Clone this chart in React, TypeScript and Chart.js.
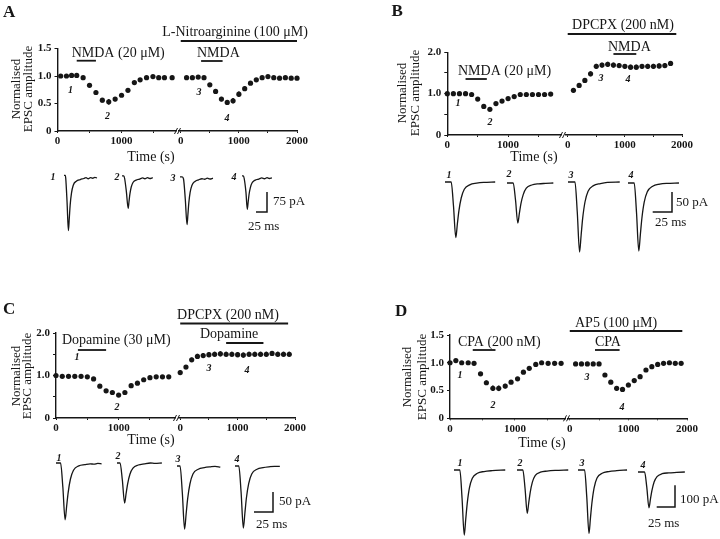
import React, { useEffect, useRef } from "react";
import { Chart, registerables } from "chart.js";
Chart.register(...registerables);

const SERIF = '"Liberation Serif", "Times New Roman", "DejaVu Serif", serif';
const INK = "#161616";

// ---------------- DATA ----------------
// Panel A
const A_S1_TIME = [50, 140, 220, 300, 400, 500, 600, 700, 800, 900, 1000, 1100, 1200, 1290, 1390, 1490, 1580, 1670, 1790];
const A_S1_VALUE = [1.0, 1.0, 1.01, 1.01, 0.97, 0.83, 0.7, 0.56, 0.53, 0.58, 0.65, 0.74, 0.88, 0.93, 0.97, 0.99, 0.97, 0.97, 0.97];
const A_S1_ERR = [0.01, 0.01, 0.01, 0.01, 0.02, 0.02, 0.03, 0.04, 0.05, 0.04, 0.03, 0.03, 0.03, 0.02, 0.02, 0.02, 0.02, 0.02, 0.02];
const A_S2_TIME = [100, 200, 300, 400, 500, 600, 700, 800, 900, 1000, 1100, 1200, 1300, 1400, 1500, 1600, 1700, 1800, 1900, 2000];
const A_S2_VALUE = [0.97, 0.97, 0.98, 0.97, 0.84, 0.72, 0.58, 0.52, 0.55, 0.67, 0.77, 0.87, 0.93, 0.97, 0.99, 0.97, 0.96, 0.97, 0.96, 0.96];
const A_S2_ERR = [0.02, 0.02, 0.02, 0.02, 0.02, 0.03, 0.04, 0.04, 0.05, 0.05, 0.04, 0.03, 0.03, 0.02, 0.02, 0.02, 0.02, 0.02, 0.02, 0.02];
// Panel B
const B_S1_TIME = [0, 100, 200, 300, 400, 500, 600, 700, 800, 900, 1000, 1100, 1200, 1300, 1400, 1500, 1600, 1700];
const B_S1_VALUE = [1.0, 1.0, 1.0, 1.0, 0.98, 0.87, 0.69, 0.62, 0.76, 0.82, 0.88, 0.93, 0.98, 0.98, 0.98, 0.98, 0.98, 0.99];
const B_S1_ERR = [0.01, 0.01, 0.01, 0.02, 0.02, 0.03, 0.04, 0.04, 0.03, 0.03, 0.02, 0.02, 0.02, 0.02, 0.02, 0.02, 0.02, 0.02];
const B_S2_TIME = [100, 200, 300, 400, 500, 600, 700, 800, 900, 1000, 1100, 1200, 1300, 1400, 1500, 1600, 1700, 1800];
const B_S2_VALUE = [1.08, 1.2, 1.32, 1.48, 1.66, 1.69, 1.71, 1.69, 1.68, 1.66, 1.64, 1.64, 1.66, 1.66, 1.66, 1.67, 1.68, 1.73];
const B_S2_ERR = [0.05, 0.06, 0.06, 0.06, 0.06, 0.06, 0.06, 0.06, 0.06, 0.06, 0.06, 0.06, 0.06, 0.06, 0.06, 0.06, 0.06, 0.06];
// Panel C
const C_S1_TIME = [0, 100, 200, 300, 400, 500, 600, 700, 800, 900, 1000, 1100, 1200, 1300, 1400, 1500, 1600, 1700, 1800];
const C_S1_VALUE = [1.0, 0.98, 0.98, 0.98, 0.98, 0.97, 0.92, 0.75, 0.64, 0.6, 0.54, 0.6, 0.76, 0.82, 0.9, 0.95, 0.97, 0.97, 0.97];
const C_S1_ERR = [0.01, 0.01, 0.01, 0.01, 0.01, 0.01, 0.02, 0.02, 0.03, 0.03, 0.04, 0.03, 0.03, 0.02, 0.02, 0.02, 0.02, 0.02, 0.02];
const C_S2_TIME = [0, 100, 200, 300, 400, 500, 600, 700, 800, 900, 1000, 1100, 1200, 1300, 1400, 1500, 1600, 1700, 1800, 1900];
const C_S2_VALUE = [1.07, 1.2, 1.37, 1.45, 1.47, 1.49, 1.5, 1.51, 1.5, 1.5, 1.49, 1.48, 1.5, 1.5, 1.5, 1.5, 1.52, 1.5, 1.5, 1.5];
const C_S2_ERR = [0.05, 0.05, 0.05, 0.06, 0.06, 0.06, 0.06, 0.06, 0.06, 0.06, 0.06, 0.06, 0.06, 0.06, 0.06, 0.06, 0.05, 0.06, 0.06, 0.06];
// Panel D
const D_S1_TIME = [0, 90, 180, 280, 370, 470, 560, 660, 750, 850, 940, 1040, 1130, 1220, 1320, 1410, 1510, 1610, 1710];
const D_S1_VALUE = [1.0, 1.04, 1.0, 1.0, 0.99, 0.8, 0.64, 0.54, 0.54, 0.58, 0.65, 0.71, 0.83, 0.9, 0.97, 1.0, 0.99, 0.99, 0.99];
const D_S1_ERR = [0.01, 0.02, 0.02, 0.02, 0.03, 0.03, 0.04, 0.05, 0.05, 0.04, 0.03, 0.03, 0.02, 0.02, 0.02, 0.01, 0.01, 0.01, 0.01];
const D_S2_TIME = [100, 200, 300, 400, 500, 600, 700, 800, 900, 1000, 1100, 1200, 1300, 1400, 1500, 1600, 1700, 1800, 1900];
const D_S2_VALUE = [0.98, 0.98, 0.98, 0.98, 0.98, 0.78, 0.65, 0.54, 0.52, 0.6, 0.68, 0.75, 0.87, 0.93, 0.97, 0.99, 1.0, 0.99, 0.99];
const D_S2_ERR = [0.01, 0.01, 0.01, 0.01, 0.01, 0.03, 0.03, 0.04, 0.04, 0.04, 0.03, 0.03, 0.02, 0.02, 0.02, 0.01, 0.01, 0.01, 0.01];

// Tick values and labels
const Y_TICKS_15 = [0, 0.5, 1.0, 1.5];
const Y_LABELS_15 = ["0", "0.5", "1.0", "1.5"];
const Y_TICKS_20 = [0, 0.5, 1.0, 1.5, 2.0];
const Y_LABELS_20 = ["0", "", "1.0", "", "2.0"];
const X1_TICKS = [0, 500, 1000, 1500];
const X1_LABELS = ["0", "", "1000", ""];
const X2_TICKS = [0, 500, 1000, 1500, 2000];
const X2_LABELS = ["0", "", "1000", "", "2000"];

// Drug applications (s)
const A_DRUGS = [
  { name: "NMDA (20 μM)", seg: 1, start: 300, end: 600 },
  { name: "L-Nitroarginine (100 μM)", seg: 2, start: 0, end: 2000 },
  { name: "NMDA", seg: 2, start: 350, end: 720 },
];
const B_DRUGS = [
  { name: "NMDA (20 μM)", seg: 1, start: 300, end: 650 },
  { name: "DPCPX (200 nM)", seg: 2, start: 0, end: 1900 },
  { name: "NMDA", seg: 2, start: 800, end: 1200 },
];
const C_DRUGS = [
  { name: "Dopamine (30 μM)", seg: 1, start: 350, end: 800 },
  { name: "DPCPX (200 nM)", seg: 2, start: 0, end: 1880 },
  { name: "Dopamine", seg: 2, start: 800, end: 1450 },
];
const D_DRUGS = [
  { name: "CPA (200 nM)", seg: 1, start: 350, end: 700 },
  { name: "AP5 (100 μM)", seg: 2, start: 0, end: 1920 },
  { name: "CPA", seg: 2, start: 430, end: 850 },
];
const MARKERS = ["1", "2", "3", "4"];

// EPSC traces: time (ms) and current (pA)
const A_TR1_MS = [0, 3, 4, 7, 10, 12, 14, 17, 21, 28, 37, 45, 50, 55, 60, 65, 70, 75];
const A_TR1_PA = [12, 12, 0, -90, -195, -150, -100, -55, -25, -10, -4, 0, 3, -1, 3, 1, 4, 2];
const A_TR2_MS = [0, 4, 6, 10, 14, 16, 18, 21, 25, 32, 40, 47, 52, 58, 63, 70];
const A_TR2_PA = [10, 10, 0, -50, -112, -85, -58, -32, -15, -6, -2, 2, -1, 3, 0, 3];
const A_TR3_MS = [0, 5, 8, 12, 16, 18, 20, 23, 27, 34, 42, 50, 56, 62, 68, 75];
const A_TR3_PA = [8, 8, 0, -75, -171, -133, -90, -50, -24, -9, -3, 1, -1, 3, 0, 3];
const A_TR4_MS = [0, 3, 5, 9, 12, 14, 16, 19, 23, 30, 38, 45, 51, 57, 62, 68];
const A_TR4_PA = [10, 10, 0, -52, -116, -88, -60, -34, -16, -6, -2, 2, -1, 3, 0, 2];

const B_TR1_MS = [0, 8, 11, 14, 16, 18, 21, 25, 32, 41, 50, 65];
const B_TR1_PA = [0, 0, -60, -139, -105, -72, -40, -18, -7, -3, -1, 0];
const B_TR2_MS = [0, 8, 11, 14, 16, 18, 21, 25, 32, 41, 50, 60];
const B_TR2_PA = [0, 0, -42, -100, -76, -52, -29, -13, -5, -2, -1, 0];
const B_TR3_MS = [0, 9, 12, 15, 17, 19, 22, 26, 33, 42, 51, 67];
const B_TR3_PA = [0, 0, -75, -175, -133, -91, -50, -23, -9, -4, -1, 0];
const B_TR4_MS = [0, 8, 11, 14, 16, 18, 21, 25, 32, 41, 50, 66];
const B_TR4_PA = [0, 0, -73, -170, -129, -88, -48, -22, -8, -3, -1, 0];

const C_TR1_MS = [0, 6, 9, 12, 14, 16, 19, 23, 30, 38, 45, 50, 55, 60];
const C_TR1_PA = [0, 0, -60, -142, -108, -74, -40, -18, -7, -4, -2, -3, -1, -2];
const C_TR2_MS = [0, 4, 7, 10, 12, 14, 17, 21, 28, 36, 44, 50, 59];
const C_TR2_PA = [0, 0, -42, -100, -76, -52, -28, -13, -5, -2, 0, -1, 0];
const C_TR3_MS = [0, 4, 7, 10, 12, 14, 17, 21, 28, 36, 44, 50, 57];
const C_TR3_PA = [0, 0, -67, -158, -120, -82, -45, -20, -8, -4, -2, -1, -3];
const C_TR4_MS = [0, 5, 8, 11, 13, 15, 18, 22, 29, 37, 45, 52, 59];
const C_TR4_PA = [0, 0, -65, -155, -118, -80, -44, -20, -8, -4, -2, -1, -1];

const D_TR1_MS = [0, 8, 11, 14, 16, 18, 21, 25, 32, 41, 52, 70];
const D_TR1_PA = [0, 0, -130, -300, -228, -156, -84, -38, -15, -7, -3, 0];
const D_TR2_MS = [0, 8, 11, 14, 16, 18, 21, 25, 32, 41, 52, 70];
const D_TR2_PA = [0, 0, -85, -200, -152, -104, -56, -25, -10, -5, -2, 0];
const D_TR3_MS = [0, 9, 12, 15, 17, 19, 22, 26, 33, 42, 53, 67];
const D_TR3_PA = [0, 0, -125, -292, -222, -152, -82, -37, -15, -7, -3, 0];
const D_TR4_MS = [0, 9, 12, 15, 17, 19, 22, 26, 33, 42, 53, 64];
const D_TR4_PA = [0, 0, -70, -165, -125, -86, -46, -21, -8, -4, -2, 0];

const SCALE_A = { ms: 25, pA: 75 };
const SCALE_B = { ms: 25, pA: 50 };
const SCALE_C = { ms: 25, pA: 50 };
const SCALE_D = { ms: 25, pA: 100 };

// ---------------- LAYOUT (page px) ----------------
const Y_AXIS_W = 32;
const X_AXIS_H = 22;

const LAYOUT_A = {
  panel: { x: 0, y: 0, w: 360 }, segBottom: 168,
  plotTop: 48.5, plotBottom: 131,
  seg1: { left: 57.5, right: 176 }, seg2: { left: 179, right: 297 },
  letter: { x: 3, y: 17 }, yTitle: { x1: 17, x2: 29, y: 89 }, timeTitle: { x: 151, y: 157 },
  drugs: [
    { barY: 60.7, textX: 71.7, textY: 53.3, align: "left" },
    { barY: 41, textX: 235, textY: 32, align: "center" },
    { barY: 61, textX: 197, textY: 53, align: "left" },
  ],
  markers: [{ x: 70.5, y: 90 }, { x: 107.5, y: 116.5 }, { x: 199, y: 92 }, { x: 227, y: 118 }],
  trace: {
    x: 0, y: 168, w: 360, h: 92, pxPerMs: 0.44, pxPerPA: 0.2667,
    starts: [64, 122, 180, 242], baselines: [178.5, 178.5, 179, 178.5],
    labels: [{ x: 53, y: 177 }, { x: 117, y: 177 }, { x: 173, y: 178 }, { x: 234, y: 177 }],
    bar: { x: 267, y: 212 }, pAText: { x: 273, y: 202 }, msText: { x: 248, y: 227 },
  },
};
const LAYOUT_B = {
  panel: { x: 360, y: 0, w: 360 }, segBottom: 168,
  plotTop: 52.3, plotBottom: 135,
  seg1: { left: 447.3, right: 561 }, seg2: { left: 566, right: 682 },
  letter: { x: 391.5, y: 15.5 }, yTitle: { x1: 402.5, x2: 415.5, y: 93 }, timeTitle: { x: 534, y: 157 },
  drugs: [
    { barY: 79, textX: 458, textY: 71, align: "left" },
    { barY: 34, textX: 623, textY: 25, align: "center" },
    { barY: 54, textX: 608, textY: 47, align: "left" },
  ],
  markers: [{ x: 458, y: 103 }, { x: 490, y: 122 }, { x: 601, y: 78 }, { x: 628, y: 79 }],
  trace: {
    x: 360, y: 168, w: 360, h: 92, pxPerMs: 0.772, pxPerPA: 0.4,
    starts: [445, 507, 568, 628], baselines: [182, 183, 182, 183],
    labels: [{ x: 449, y: 175 }, { x: 509, y: 174 }, { x: 571, y: 175 }, { x: 631, y: 175 }],
    bar: { x: 672, y: 212 }, pAText: { x: 676, y: 203 }, msText: { x: 655, y: 223 },
  },
};
const LAYOUT_C = {
  panel: { x: 0, y: 262, w: 360 }, segBottom: 454,
  plotTop: 333, plotBottom: 418,
  seg1: { left: 56, right: 175 }, seg2: { left: 178.5, right: 295 },
  letter: { x: 3, y: 314 }, yTitle: { x1: 16.7, x2: 28, y: 376 }, timeTitle: { x: 151, y: 440 },
  drugs: [
    { barY: 350, textX: 62, textY: 340, align: "left" },
    { barY: 323.5, textX: 228, textY: 315, align: "center" },
    { barY: 343, textX: 200, textY: 334, align: "left" },
  ],
  markers: [{ x: 77, y: 357 }, { x: 117, y: 407 }, { x: 209, y: 368 }, { x: 247, y: 370 }],
  trace: {
    x: 0, y: 448, w: 360, h: 91, pxPerMs: 0.76, pxPerPA: 0.4,
    starts: [56, 117, 177, 235], baselines: [463, 463, 466, 466],
    labels: [{ x: 59, y: 458 }, { x: 118, y: 456 }, { x: 178, y: 459 }, { x: 237, y: 459 }],
    bar: { x: 273, y: 512 }, pAText: { x: 279, y: 502 }, msText: { x: 256, y: 525 },
  },
};
const LAYOUT_D = {
  panel: { x: 360, y: 262, w: 360 }, segBottom: 454,
  plotTop: 335, plotBottom: 418.3,
  seg1: { left: 450, right: 565 }, seg2: { left: 568, right: 687 },
  letter: { x: 395, y: 315.5 }, yTitle: { x1: 408, x2: 422.5, y: 377 }, timeTitle: { x: 542, y: 443 },
  drugs: [
    { barY: 350, textX: 458, textY: 342, align: "left" },
    { barY: 331, textX: 575, textY: 323, align: "left" },
    { barY: 350, textX: 595, textY: 342, align: "left" },
  ],
  markers: [{ x: 460, y: 375 }, { x: 493, y: 405 }, { x: 587, y: 377 }, { x: 622, y: 407 }],
  trace: {
    x: 360, y: 448, w: 360, h: 91, pxPerMs: 0.732, pxPerPA: 0.217,
    starts: [454, 517, 578, 638], baselines: [470, 470, 470, 472],
    labels: [{ x: 460, y: 463 }, { x: 520, y: 463 }, { x: 582, y: 463 }, { x: 643, y: 465 }],
    bar: { x: 675, y: 507 }, pAText: { x: 680, y: 500 }, msText: { x: 648, y: 524 },
  },
};

const PANELS: any[] = [
  {
    key: "A", yMax: 1.5, yTicks: Y_TICKS_15, yLabels: Y_LABELS_15,
    seg1: { time: A_S1_TIME, value: A_S1_VALUE, err: A_S1_ERR, min: 0, max: 1850, ticks: X1_TICKS, labels: X1_LABELS },
    seg2: { time: A_S2_TIME, value: A_S2_VALUE, err: A_S2_ERR, min: -30, max: 2000, ticks: X2_TICKS, labels: X2_LABELS },
    drugs: A_DRUGS, scale: SCALE_A, layout: LAYOUT_A,
    traces: [{ ms: A_TR1_MS, pa: A_TR1_PA }, { ms: A_TR2_MS, pa: A_TR2_PA }, { ms: A_TR3_MS, pa: A_TR3_PA }, { ms: A_TR4_MS, pa: A_TR4_PA }],
  },
  {
    key: "B", yMax: 2.0, yTicks: Y_TICKS_20, yLabels: Y_LABELS_20,
    seg1: { time: B_S1_TIME, value: B_S1_VALUE, err: B_S1_ERR, min: 0, max: 1870, ticks: X1_TICKS, labels: X1_LABELS },
    seg2: { time: B_S2_TIME, value: B_S2_VALUE, err: B_S2_ERR, min: -30, max: 2000, ticks: X2_TICKS, labels: X2_LABELS },
    drugs: B_DRUGS, scale: SCALE_B, layout: LAYOUT_B,
    traces: [{ ms: B_TR1_MS, pa: B_TR1_PA }, { ms: B_TR2_MS, pa: B_TR2_PA }, { ms: B_TR3_MS, pa: B_TR3_PA }, { ms: B_TR4_MS, pa: B_TR4_PA }],
  },
  {
    key: "C", yMax: 2.0, yTicks: Y_TICKS_20, yLabels: Y_LABELS_20,
    seg1: { time: C_S1_TIME, value: C_S1_VALUE, err: C_S1_ERR, min: 0, max: 1900, ticks: X1_TICKS, labels: X1_LABELS },
    seg2: { time: C_S2_TIME, value: C_S2_VALUE, err: C_S2_ERR, min: -30, max: 2000, ticks: X2_TICKS, labels: X2_LABELS },
    drugs: C_DRUGS, scale: SCALE_C, layout: LAYOUT_C,
    traces: [{ ms: C_TR1_MS, pa: C_TR1_PA }, { ms: C_TR2_MS, pa: C_TR2_PA }, { ms: C_TR3_MS, pa: C_TR3_PA }, { ms: C_TR4_MS, pa: C_TR4_PA }],
  },
  {
    key: "D", yMax: 1.5, yTicks: Y_TICKS_15, yLabels: Y_LABELS_15,
    seg1: { time: D_S1_TIME, value: D_S1_VALUE, err: D_S1_ERR, min: 0, max: 1770, ticks: X1_TICKS, labels: X1_LABELS },
    seg2: { time: D_S2_TIME, value: D_S2_VALUE, err: D_S2_ERR, min: -30, max: 2000, ticks: X2_TICKS, labels: X2_LABELS },
    drugs: D_DRUGS, scale: SCALE_D, layout: LAYOUT_D,
    traces: [{ ms: D_TR1_MS, pa: D_TR1_PA }, { ms: D_TR2_MS, pa: D_TR2_PA }, { ms: D_TR3_MS, pa: D_TR3_PA }, { ms: D_TR4_MS, pa: D_TR4_PA }],
  },
];

// ---------------- HELPERS ----------------
function drawText(ctx: any, s: string, x: number, y: number, font: string, align: string = "left", baseline: string = "middle") {
  ctx.save();
  ctx.font = font;
  ctx.fillStyle = INK;
  ctx.textAlign = align;
  ctx.textBaseline = baseline;
  ctx.fillText(s, x, y);
  ctx.restore();
}

function seg1Rect(p: any) {
  const L = p.layout;
  return { x: L.panel.x, y: L.panel.y, w: L.panel.w, h: L.segBottom - L.panel.y };
}
function seg2Rect(p: any) {
  const L = p.layout;
  const x = Math.round(L.seg2.left - 15);
  return { x, y: L.panel.y, w: L.panel.x + L.panel.w - x, h: L.segBottom - L.panel.y };
}
function traceRect(p: any) {
  const T = p.layout.trace;
  return { x: T.x, y: T.y, w: T.w, h: T.h };
}

function segConfig(p: any, which: number, rect: any): any {
  const L = p.layout;
  const seg = which === 1 ? p.seg1 : p.seg2;
  const area = which === 1 ? L.seg1 : L.seg2;
  const yW = which === 1 ? Y_AXIS_W : 0;
  const padding = {
    left: area.left - rect.x - yW,
    right: rect.x + rect.w - area.right,
    top: L.plotTop - rect.y,
    bottom: rect.y + rect.h - L.plotBottom - X_AXIS_H,
  };
  const tickFont = { family: SERIF, size: 11, weight: "bold" as any };
  const plugin = {
    id: "seg" + p.key + which,
    beforeDatasetsDraw(chart: any) {
      const ctx = chart.ctx;
      const ys = chart.scales.y;
      const meta = chart.getDatasetMeta(0);
      ctx.save();
      ctx.strokeStyle = INK;
      ctx.lineWidth = 1.6;
      meta.data.forEach((pt: any, i: number) => {
        const v = seg.value[i];
        const e = seg.err[i];
        ctx.beginPath();
        ctx.moveTo(pt.x, ys.getPixelForValue(v + e));
        ctx.lineTo(pt.x, ys.getPixelForValue(v - e));
        ctx.stroke();
      });
      ctx.restore();
    },
    afterDraw(chart: any) {
      const ctx = chart.ctx;
      const xs = chart.scales.x;
      ctx.save();
      ctx.strokeStyle = INK;
      ctx.lineWidth = 1.8;
      p.drugs.forEach((d: any, i: number) => {
        if (d.seg !== which) return;
        const lay = L.drugs[i];
        const y = lay.barY - rect.y;
        ctx.beginPath();
        ctx.moveTo(xs.getPixelForValue(d.start), y);
        ctx.lineTo(xs.getPixelForValue(d.end), y);
        ctx.stroke();
      });
      ctx.restore();
      if (which !== 1) return;
      const ca = chart.chartArea;
      // axis break marks
      ctx.save();
      ctx.strokeStyle = INK;
      ctx.lineWidth = 1;
      const bx = ca.right + 1.5;
      const by = ca.bottom;
      ctx.beginPath();
      ctx.moveTo(bx - 3, by + 3);
      ctx.lineTo(bx, by - 3);
      ctx.moveTo(bx, by + 3);
      ctx.lineTo(bx + 3, by - 3);
      ctx.stroke();
      ctx.restore();
      const ox = rect.x;
      const oy = rect.y;
      drawText(ctx, p.key, L.letter.x - ox, L.letter.y - oy, `bold 17px ${SERIF}`, "left", "alphabetic");
      // y title
      ctx.save();
      ctx.translate(L.yTitle.x1 - ox, L.yTitle.y - oy);
      ctx.rotate(-Math.PI / 2);
      drawText(ctx, "Normalised", 0, 0, `13px ${SERIF}`, "center");
      ctx.restore();
      ctx.save();
      ctx.translate(L.yTitle.x2 - ox, L.yTitle.y - oy);
      ctx.rotate(-Math.PI / 2);
      drawText(ctx, "EPSC amplitude", 0, 0, `13px ${SERIF}`, "center");
      ctx.restore();
      drawText(ctx, "Time (s)", L.timeTitle.x - ox, L.timeTitle.y - oy, `14px ${SERIF}`, "center");
      p.drugs.forEach((d: any, i: number) => {
        const lay = L.drugs[i];
        drawText(ctx, d.name, lay.textX - ox, lay.textY - oy, `14px ${SERIF}`, lay.align);
      });
      MARKERS.forEach((m, i) => {
        const pos = L.markers[i];
        drawText(ctx, m, pos.x - ox, pos.y - oy, `italic bold 10px ${SERIF}`, "center");
      });
    },
  };
  return {
    type: "line",
    data: {
      datasets: [
        {
          data: seg.time.map((t: number, i: number) => ({ x: t, y: seg.value[i] })),
          showLine: false,
          pointRadius: 2.6,
          pointHoverRadius: 2.6,
          pointBackgroundColor: INK,
          pointBorderColor: INK,
          pointBorderWidth: 0,
          clip: false,
        },
      ],
    },
    options: {
      responsive: false,
      animation: false,
      devicePixelRatio: 1,
      events: [],
      layout: { padding },
      plugins: { legend: { display: false }, tooltip: { enabled: false } },
      scales: {
        x: {
          type: "linear",
          min: seg.min,
          max: seg.max,
          afterBuildTicks: (s: any) => {
            s.ticks = seg.ticks.map((v: number) => ({ value: v }));
          },
          afterFit: (s: any) => {
            s.height = X_AXIS_H;
            s.paddingLeft = 0;
            s.paddingRight = 0;
            s.paddingTop = 0;
            s.paddingBottom = 0;
          },
          grid: { display: true, drawOnChartArea: false, drawTicks: true, tickLength: 2, color: INK, lineWidth: 1 },
          border: { display: true, color: INK, width: 1.4 },
          ticks: {
            autoSkip: false,
            maxRotation: 0,
            minRotation: 0,
            padding: 2,
            color: INK,
            font: tickFont,
            callback: (v: any) => {
              const k = seg.ticks.indexOf(v);
              return k >= 0 ? seg.labels[k] : "";
            },
          },
        },
        y: {
          type: "linear",
          min: 0,
          max: p.yMax,
          display: which === 1,
          afterBuildTicks: (s: any) => {
            s.ticks = p.yTicks.map((v: number) => ({ value: v }));
          },
          afterFit: (s: any) => {
            s.width = yW;
            s.paddingTop = 0;
            s.paddingBottom = 0;
            s.paddingLeft = 0;
            s.paddingRight = 0;
          },
          grid: { display: true, drawOnChartArea: false, drawTicks: true, tickLength: 3, color: INK, lineWidth: 1 },
          border: { display: true, color: INK, width: 1.4 },
          ticks: {
            autoSkip: false,
            padding: 3,
            color: INK,
            font: tickFont,
            callback: (v: any) => {
              const k = p.yTicks.indexOf(v);
              return k >= 0 ? p.yLabels[k] : "";
            },
          },
        },
      },
    },
    plugins: [plugin],
  };
}

function traceConfig(p: any, rect: any): any {
  const T = p.layout.trace;
  const kx = T.pxPerMs;
  const ky = T.pxPerPA;
  const ref = T.baselines[0];
  const xMax = rect.w / kx;
  const yTop = (ref - rect.y) / ky;
  const yMin = yTop - rect.h / ky;
  const datasets: any[] = p.traces.map((tr: any, i: number) => {
    const off = (T.starts[i] - rect.x) / kx;
    const shift = (ref - T.baselines[i]) / ky;
    return {
      data: tr.ms.map((m: number, j: number) => ({ x: m + off, y: tr.pa[j] + shift })),
      borderColor: INK,
      borderWidth: 1.3,
      pointRadius: 0,
      cubicInterpolationMode: "monotone",
      fill: false,
      clip: false,
    };
  });
  const bx = (T.bar.x - rect.x) / kx;
  const by = yTop - (T.bar.y - rect.y) / ky;
  datasets.push({
    data: [
      { x: bx - p.scale.ms, y: by },
      { x: bx, y: by },
      { x: bx, y: by + p.scale.pA },
    ],
    borderColor: INK,
    borderWidth: 1.5,
    pointRadius: 0,
    tension: 0,
    fill: false,
    clip: false,
  });
  const plugin = {
    id: "tr" + p.key,
    afterDraw(chart: any) {
      const ctx = chart.ctx;
      MARKERS.forEach((m, i) => {
        const pos = T.labels[i];
        drawText(ctx, m, pos.x - rect.x, pos.y - rect.y, `italic bold 10px ${SERIF}`, "center");
      });
      drawText(ctx, `${p.scale.pA} pA`, T.pAText.x - rect.x, T.pAText.y - rect.y, `13px ${SERIF}`, "left");
      drawText(ctx, `${p.scale.ms} ms`, T.msText.x - rect.x, T.msText.y - rect.y, `13px ${SERIF}`, "left");
    },
  };
  return {
    type: "line",
    data: { datasets },
    options: {
      responsive: false,
      animation: false,
      devicePixelRatio: 1,
      events: [],
      layout: { padding: 0 },
      plugins: { legend: { display: false }, tooltip: { enabled: false } },
      scales: {
        x: { type: "linear", display: false, min: 0, max: xMax },
        y: { type: "linear", display: false, min: yMin, max: yTop },
      },
    },
    plugins: [plugin],
  };
}

function ChartCanvas({ rect, make }: { rect: any; make: (r: any) => any }) {
  const ref = useRef<HTMLCanvasElement | null>(null);
  useEffect(() => {
    if (!ref.current) return;
    const chart = new Chart(ref.current, make(rect));
    return () => chart.destroy();
  }, []);
  return (
    <canvas
      ref={ref}
      width={rect.w}
      height={rect.h}
      style={{ position: "absolute", left: rect.x, top: rect.y, width: rect.w, height: rect.h }}
    />
  );
}

export default function App() {
  return (
    <div style={{ position: "absolute", left: 0, top: 0, width: 720, height: 539, background: "#ffffff", overflow: "hidden" }}>
      {PANELS.map((p) => (
        <React.Fragment key={p.key}>
          <ChartCanvas rect={traceRect(p)} make={(r) => traceConfig(p, r)} />
          <ChartCanvas rect={seg1Rect(p)} make={(r) => segConfig(p, 1, r)} />
          <ChartCanvas rect={seg2Rect(p)} make={(r) => segConfig(p, 2, r)} />
        </React.Fragment>
      ))}
    </div>
  );
}
